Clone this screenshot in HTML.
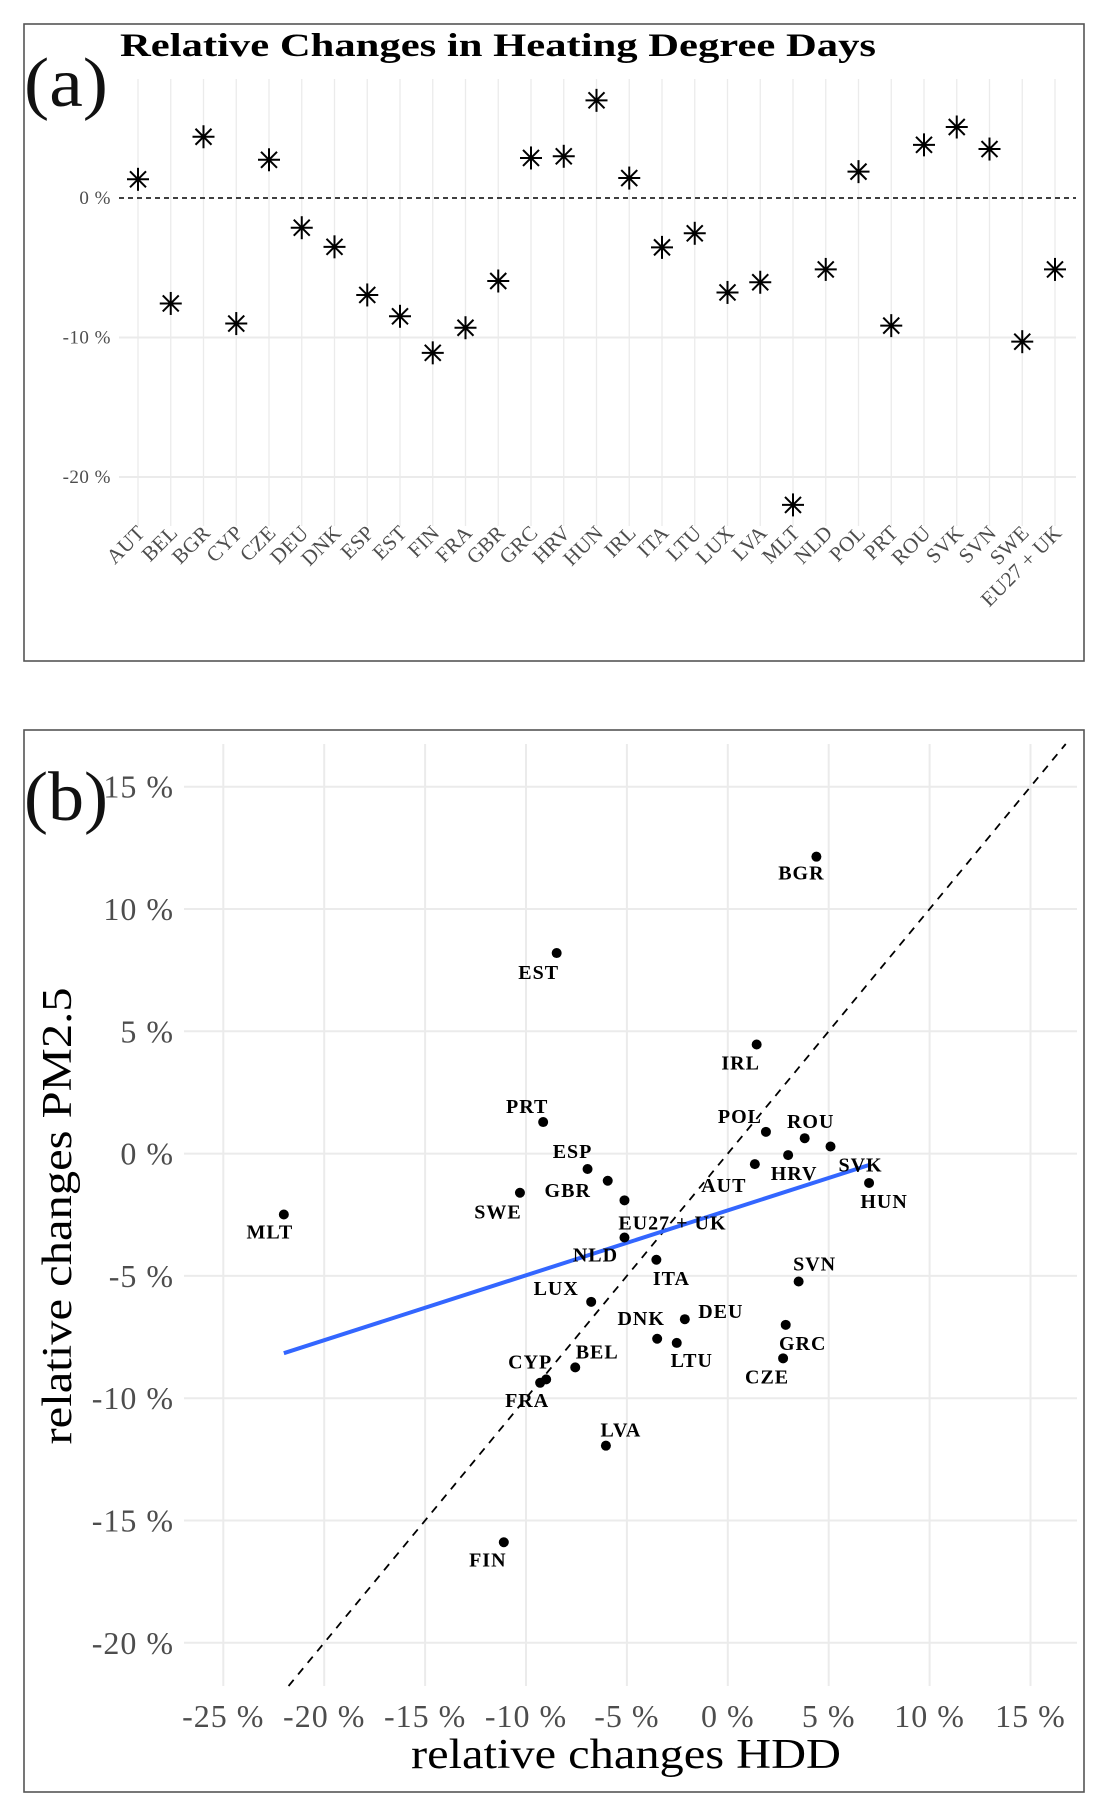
<!DOCTYPE html>
<html><head><meta charset="utf-8"><style>
html,body{margin:0;padding:0;background:#fff;}
svg{display:block;font-family:"Liberation Serif",serif;}
</style></head><body>
<svg id="root" width="1111" height="1818" viewBox="0 0 1111 1818" xmlns="http://www.w3.org/2000/svg">
<rect x="24" y="24" width="1060" height="637" fill="none" stroke="#555" stroke-width="1.6"/>
<rect x="24" y="730" width="1060" height="1062" fill="none" stroke="#555" stroke-width="1.6"/>
<g id="pa"></g>
<g id="pb"></g>
<text x="120" y="56" font-size="33" font-weight="bold" fill="#000" textLength="756" lengthAdjust="spacingAndGlyphs">Relative Changes in Heating Degree Days</text>
<text x="24" y="106" font-size="70" fill="#111" textLength="84" lengthAdjust="spacingAndGlyphs">(a)</text>
<text x="24" y="820" font-size="70" fill="#111" textLength="84" lengthAdjust="spacingAndGlyphs">(b)</text>
</svg>
<script>
const countries = ["AUT","BEL","BGR","CYP","CZE","DEU","DNK","ESP","EST","FIN","FRA","GBR","GRC","HRV","HUN","IRL","ITA","LTU","LUX","LVA","MLT","NLD","POL","PRT","ROU","SVK","SVN","SWE","EU27 + UK"];
const hdd = [1.34,-7.56,4.39,-9.0,2.74,-2.13,-3.5,-6.95,-8.48,-11.1,-9.3,-5.95,2.87,2.99,7.0,1.43,-3.54,-2.53,-6.77,-6.04,-22.0,-5.12,1.89,-9.15,3.81,5.09,3.51,-10.3,-5.12];
const pm25 = [-0.43,-8.74,12.14,-9.23,-8.37,-6.77,-7.57,-0.63,8.2,-15.89,-9.37,-1.11,-7.0,-0.06,-1.2,4.46,-4.34,-7.74,-6.06,-11.94,-2.49,-3.43,0.89,1.29,0.63,0.29,-5.23,-1.6,-1.91];
const aTicks = [0,-10,-20];
const aTickLabels = ["0 %","-10 %","-20 %"];
const bTicks = [-25,-20,-15,-10,-5,0,5,10,15];
const bTickLabels = ["-25 %","-20 %","-15 %","-10 %","-5 %","0 %","5 %","10 %","15 %"];
// label offsets in px (layout)
const labelOffsets = {BGR:[-15,16],EST:[-18,19],IRL:[-16,18],PRT:[-16,-16],POL:[-26,-16],ROU:[6,-17],SVK:[30,18],HRV:[6,18],AUT:[-31,21],ESP:[-15,-18],GBR:[-40,9],SWE:[-22,19],"EU27 + UK":[48,22],HUN:[15,18],MLT:[-14,17],NLD:[-29,17],ITA:[15,18],SVN:[16,-18],LUX:[-35,-14],DEU:[36,-8],GRC:[17,18],DNK:[-16,-21],LTU:[15,17],CZE:[-16,18],BEL:[22,-16],CYP:[-16,-18],FRA:[-13,17],LVA:[15,-16],FIN:[-16,17]};

const NS="http://www.w3.org/2000/svg";
function mk(parent,tag,attrs,text){const e=document.createElementNS(NS,tag);for(const k in attrs)e.setAttribute(k,attrs[k]);if(text!==undefined)e.textContent=text;parent.appendChild(e);return e;}

// Panel A
const pa=document.getElementById('pa');
const ax=i=>138+i*(1055-138)/(countries.length-1);
const ay=v=>198-v*13.95;
countries.forEach((c,i)=>{
  const l=mk(pa,'line',{x1:ax(i),x2:ax(i),y1:79,y2:526,stroke:'#ebebeb','stroke-width':1.3});
  
  
});
aTicks.forEach((t,i)=>{
  if(t!==0){const l=mk(pa,'line',{x1:119,x2:1076,y1:ay(t),y2:ay(t),stroke:'#ebebeb','stroke-width':2});
  
  }
  const tx=mk(pa,'text',{x:111,y:ay(t)+6,'text-anchor':'end','font-size':19,'letter-spacing':0.5,fill:'#4d4d4d'},aTickLabels[i]);
  
  
});
const zl=mk(pa,'line',{x1:119,x2:1076,y1:ay(0),y2:ay(0),stroke:'#000','stroke-width':1.5,'stroke-dasharray':'5,4'});


countries.forEach((c,i)=>{
  const g=mk(pa,'g',{transform:`translate(${ax(i)},${ay(hdd[i])})`,stroke:'#000','stroke-width':2});
  
  
  mk(g,'line',{x1:0,y1:-11.5,x2:0,y2:11.5});
  mk(g,'line',{x1:-11,y1:0,x2:11,y2:0});
  mk(g,'line',{x1:-8,y1:-8,x2:8,y2:8});
  mk(g,'line',{x1:-8,y1:8,x2:8,y2:-8});
  const t=mk(pa,'text',{x:0,y:0,'text-anchor':'end','font-size':21,'letter-spacing':0.3,fill:'#4d4d4d',transform:`translate(${ax(i)+8},${534}) rotate(-45)`},c);
  
  
});

// Panel B
const pb=document.getElementById('pb');
const bx=v=>727.8+v*20.18;
const by=v=>1153.6-v*24.46;
const L=184,R=1077,T=744,B=1686;
bTicks.forEach((t,i)=>{
  const v=mk(pb,'line',{x1:bx(t),x2:bx(t),y1:T,y2:B,stroke:'#ebebeb','stroke-width':2});
  
  
  const xl=mk(pb,'text',{x:bx(t),y:1727,'text-anchor':'middle','font-size':32,'letter-spacing':1,fill:'#4d4d4d'},bTickLabels[i]);
  
  
  if(t>=-20){
    const h=mk(pb,'line',{x1:L,x2:R,y1:by(t),y2:by(t),stroke:'#ebebeb','stroke-width':2});
    
    
    const yl=mk(pb,'text',{x:174,y:by(t)+11,'text-anchor':'end','font-size':32,'letter-spacing':1,fill:'#4d4d4d'},bTickLabels[i]);
    
    
  }
});
// identity line y=x clipped to plot
const yMin=(by(0)-B)/24.46, yMax=(by(0)-T)/24.46;
const d=mk(pb,'line',{x1:bx(yMin),y1:by(yMin),x2:bx(yMax),y2:by(yMax),stroke:'#000','stroke-width':1.8,'stroke-dasharray':'8,7'});


// OLS fit
const n=hdd.length; let mx=0,my=0; for(let i=0;i<n;i++){mx+=hdd[i];my+=pm25[i];} mx/=n; my/=n;
let sxy=0,sxx=0; for(let i=0;i<n;i++){sxy+=(hdd[i]-mx)*(pm25[i]-my);sxx+=(hdd[i]-mx)**2;}
const slope=sxy/sxx, icpt=my-slope*mx;
const xa=Math.min(...hdd), xb=Math.max(...hdd);
const fl=mk(pb,'line',{x1:bx(xa),y1:by(icpt+slope*xa),x2:bx(xb),y2:by(icpt+slope*xb),stroke:'#3366ff','stroke-width':4});


countries.forEach((c,i)=>{
  const p=mk(pb,'circle',{cx:bx(hdd[i]),cy:by(pm25[i]),r:5,fill:'#000'});
  
  
  const o=labelOffsets[c]||[0,16];
  const t=mk(pb,'text',{x:bx(hdd[i])+o[0],y:by(pm25[i])+o[1]+7,'text-anchor':'middle','font-size':20,'letter-spacing':1,'font-weight':'bold',fill:'#000'},c);
  
  
});
const xt=mk(pb,'text',{x:626,y:1768,'text-anchor':'middle','font-size':42,fill:'#000',textLength:430,lengthAdjust:'spacingAndGlyphs'},'relative changes HDD');


const yt=mk(pb,'text',{x:0,y:0,'text-anchor':'middle','font-size':42,fill:'#000',textLength:457,lengthAdjust:'spacingAndGlyphs',transform:'translate(71,1216) rotate(-90)'},'relative changes PM2.5');


</script>
</body></html>
